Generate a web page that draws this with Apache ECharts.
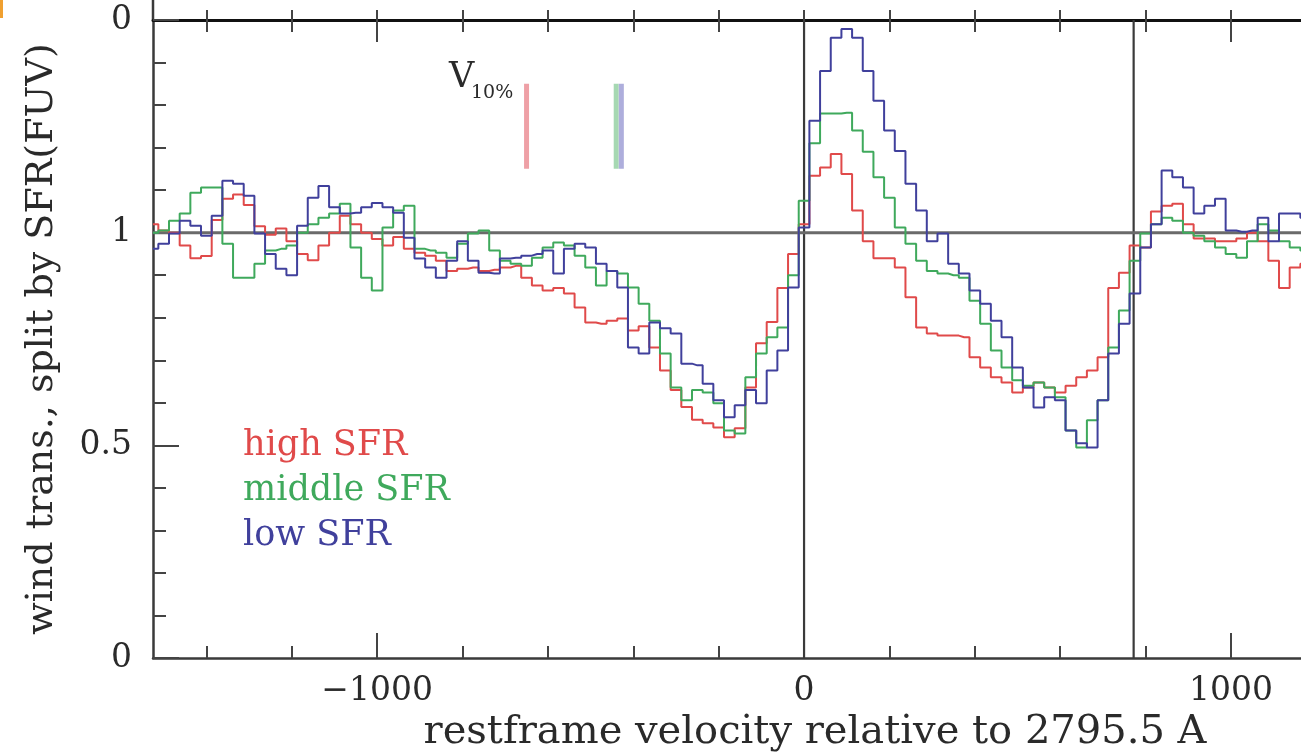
<!DOCTYPE html>
<html>
<head>
<meta charset="utf-8">
<script src="https://cdn.jsdelivr.net/npm/echarts@6/dist/echarts.min.js"></script>
<style>html,body{margin:0;padding:0;background:#fff}#c{width:1301px;height:754px}</style>
</head>
<body>
<div id="c"></div>
<script>
const velocity = [
 -1525,-1500,-1475,-1450,-1425,-1400,-1375,-1350,-1325,-1300,-1275,-1250,-1225,-1200,-1175,-1150,-1125,-1100,-1075,-1050,-1025,
 -1000,-975,-950,-925,-900,-875,-850,-825,-800,-775,-750,-725,-700,-675,-650,-625,-600,-575,-550,-525,
 -500,-475,-450,-425,-400,-375,-350,-325,-300,-275,-250,-225,-200,-175,-150,-125,-100,-75,-50,-25,
 0,25,50,75,100,125,150,175,200,225,250,275,300,325,350,375,400,425,450,475,500,525,550,575,600,625,650,675,700,725,750,775,
 800,825,850,875,900,925,950,975,1000,1025,1050,1075,1100,1125,1150,1175
];
const highSFR = [
 1.02,1.005,1.00,0.97,0.94,0.945,1.03,1.08,1.09,1.065,1.015,0.995,1.01,0.98,0.95,0.935,0.97,1.0,1.04,1.02,1.0,
 0.985,0.97,0.99,0.962,0.953,0.946,0.934,0.91,0.915,0.918,0.91,0.913,0.918,0.922,0.894,0.876,0.864,0.87,0.857,0.824,
 0.789,0.786,0.793,0.798,0.77,0.78,0.73,0.676,0.63,0.59,0.56,0.552,0.542,0.519,0.54,0.636,0.74,0.79,0.87,0.95,
 1.02,1.134,1.153,1.185,1.138,1.052,0.98,0.94,0.94,0.918,0.848,0.777,0.763,0.758,0.758,0.754,0.707,0.683,0.66,0.648,0.624,0.636,0.648,0.636,0.624,0.64,0.66,0.676,0.707,0.87,0.906,0.97,
 0.965,1.05,1.063,1.068,1.02,0.986,0.986,0.98,0.98,0.986,1.0,0.98,0.934,0.87,0.918,0.927
];
const middleSFR = [
 1.0,1.005,1.028,1.045,1.094,1.106,1.106,0.974,0.894,0.894,0.927,0.958,0.962,0.97,1.0,1.02,1.035,1.045,1.068,0.965,0.894,
 0.864,1.012,1.052,1.063,0.962,0.958,0.953,0.941,0.974,0.998,1.005,0.958,0.934,0.927,0.922,0.941,0.965,0.977,0.97,0.946,
 0.918,0.876,0.91,0.904,0.871,0.833,0.793,0.716,0.636,0.606,0.63,0.624,0.599,0.535,0.528,0.66,0.716,0.754,0.777,0.9,
 1.075,1.21,1.28,1.28,1.282,1.24,1.19,1.13,1.082,1.012,0.974,0.934,0.91,0.904,0.9,0.894,0.84,0.786,0.723,0.683,0.653,0.64,0.648,0.636,0.613,0.535,0.495,0.559,0.606,0.73,0.817,0.934,
 0.998,1.02,1.035,1.028,1.0,0.993,0.98,0.965,0.95,0.941,0.98,1.02,1.005,0.98,0.965,0.958
];
const lowSFR = [
 0.962,0.974,0.998,1.028,1.016,0.993,1.04,1.122,1.115,1.087,0.998,0.95,0.915,0.9,1.016,1.082,1.11,1.06,1.045,1.047,1.06,
 1.07,1.06,1.047,0.988,0.939,0.918,0.894,0.934,0.98,0.934,0.906,0.904,0.939,0.941,0.946,0.95,0.958,0.904,0.962,0.974,
 0.965,0.927,0.91,0.871,0.73,0.716,0.789,0.775,0.763,0.692,0.688,0.645,0.606,0.566,0.594,0.63,0.599,0.676,0.723,0.871,
 1.012,1.263,1.38,1.458,1.479,1.458,1.38,1.31,1.24,1.192,1.115,1.052,0.98,0.998,0.927,0.904,0.864,0.833,0.793,0.754,0.683,0.636,0.589,0.613,0.606,0.535,0.505,0.495,0.606,0.716,0.786,0.857,
 0.965,1.02,1.146,1.13,1.106,1.045,1.063,1.08,1.005,1.002,1.005,1.035,0.98,1.045,1.045,1.035
];
const seriesNames = ['high SFR', 'middle SFR', 'low SFR'];
const v10Velocity = [-650, -440, -428];
const v10Range = [1.15, 1.35];
const refVelocities = [0, 772];
const refLevel = 1;
const xMin = -1525, xMax = 1164, yMin = 0, yMax = 1.5;
const xMinorTicks = [-1400,-1200,-800,-600,-400,-200,200,400,600,800];
const xMajorTicks = [-1000, 0, 1000];

const FONT = 'DejaVu Serif';
const colors = ['#e04a4a', '#3fa95c', '#40409c'];
const paleColors = ['#eea0a6', '#a6d8b2', '#aeaedc'];

const chart = echarts.init(document.getElementById('c'), null, {renderer: 'canvas'});

function xAx(extra) {
  return Object.assign({
    type: 'value', min: xMin, max: xMax, gridIndex: 0,
    splitLine: {show: false},
    axisLine: {show: false, onZero: false},
    axisLabel: {show: false},
    axisTick: {show: false}
  }, extra);
}
function yAx(extra) {
  return Object.assign({
    type: 'value', min: yMin, max: yMax, gridIndex: 0,
    splitLine: {show: false},
    axisLine: {show: false, onZero: false},
    axisLabel: {show: false},
    axisTick: {show: false}
  }, extra);
}
const tickStyle = {color: '#444', width: 2};

const mainSeries = [highSFR, middleSFR, lowSFR].map((vals, k) => ({
  name: seriesNames[k],
  type: 'line',
  step: 'middle',
  showSymbol: false,
  symbol: 'none',
  data: velocity.map((v, i) => [v, vals[i]]),
  lineStyle: {color: colors[k], width: 2},
  itemStyle: {color: colors[k]},
  z: 5 + k
}));

const refSeries = [
  ...refVelocities.map(v => ({
    type: 'line', symbol: 'none', silent: true,
    data: [[v, yMin], [v, yMax]],
    lineStyle: {color: '#3a3a3a', width: 2.2}, z: 2
  })),
  {
    type: 'line', symbol: 'none', silent: true,
    data: [[xMin, refLevel], [xMax, refLevel]],
    lineStyle: {color: '#6a6a6a', width: 3}, z: 2
  }
];

const v10Series = v10Velocity.map((v, k) => ({
  type: 'line', symbol: 'none', silent: true,
  data: [[v, v10Range[0]], [v, v10Range[1]]],
  lineStyle: {color: paleColors[k], width: 5}, z: 3
}));

chart.setOption({
  animation: false,
  backgroundColor: '#fff',
  grid: {left: 153, right: 0, top: 20, bottom: 96, containLabel: false, outerBoundsMode: 'none'},
  legend: {
    orient: 'vertical', left: 233, top: 423,
    itemWidth: 0, itemHeight: 0, itemGap: 10,
    selectedMode: false,
    textStyle: {fontFamily: FONT, fontSize: 35},
    data: seriesNames.map((n, k) => ({name: n, icon: 'rect', textStyle: {color: colors[k]}}))
  },
  xAxis: [
    xAx({position: 'bottom',
      axisLine: {show: true, onZero: false, lineStyle: {color: '#3a3a3a', width: 2.5}},
      axisTick: {show: true, inside: true, length: 12, lineStyle: tickStyle, customValues: xMinorTicks},
      axisLabel: {show: true, customValues: xMajorTicks, margin: 17, color: '#2a2a2a',
        fontFamily: FONT, fontSize: 33,
        formatter: v => (v < 0 ? '\u2212' + Math.abs(v) : String(v))},
      name: 'restframe velocity relative to 2795.5 A',
      nameLocation: 'middle', nameGap: 52,
      nameTextStyle: {fontFamily: FONT, fontSize: 40, color: '#2a2a2a', padding: [0, 0, 0, 176]}
    }),
    xAx({position: 'bottom',
      axisTick: {show: true, inside: true, length: 25, lineStyle: tickStyle, customValues: xMajorTicks}}),
    xAx({position: 'top',
      axisLine: {show: true, onZero: false, lineStyle: {color: '#111', width: 3}},
      axisTick: {show: true, inside: true, length: 12, lineStyle: tickStyle, customValues: xMinorTicks}}),
    xAx({position: 'top',
      axisTick: {show: true, inside: false, length: 10, lineStyle: tickStyle, customValues: xMinorTicks.concat(xMajorTicks)}}),
    xAx({position: 'top',
      axisTick: {show: true, inside: true, length: 22, lineStyle: tickStyle, customValues: xMajorTicks}})
  ],
  yAxis: [
    yAx({position: 'left', interval: 0.1,
      axisLine: {show: true, onZero: false, lineStyle: {color: '#3a3a3a', width: 2.5}},
      axisTick: {show: true, inside: true, length: 13, lineStyle: tickStyle},
      name: 'wind trans., split by SFR(FUV)',
      nameLocation: 'middle', nameGap: 92,
      nameTextStyle: {fontFamily: FONT, fontSize: 38, color: '#2a2a2a'}
    }),
    yAx({position: 'left', interval: 0.5,
      axisTick: {show: true, inside: true, length: 26, lineStyle: tickStyle},
      axisLabel: {show: true, margin: 21, color: '#2a2a2a', fontFamily: FONT, fontSize: 33,
        formatter: v => (Math.abs(v - yMax) < 1e-6 ? '0' : String(v))}
    })
  ],
  graphic: [
    {type: 'line', shape: {x1: 153, y1: 0, x2: 153, y2: 20}, style: {stroke: '#3a3a3a', lineWidth: 2.5}},
    {type: 'rect', shape: {x: 0, y: 0, width: 3, height: 18}, style: {fill: '#f0a030'}},
    {type: 'text', left: 449, top: 60, style: {text: 'V', fontFamily: FONT, fontSize: 35, fill: '#2a2a2a'}},
    {type: 'text', left: 471, top: 84, style: {text: '10%', fontFamily: FONT, fontSize: 19, fill: '#2a2a2a'}}
  ],
  series: [...refSeries, ...v10Series, ...mainSeries]
});
</script>
</body>
</html>
